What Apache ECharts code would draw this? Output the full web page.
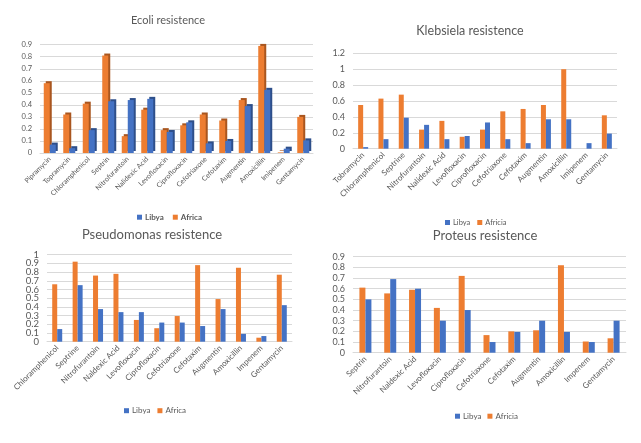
<!DOCTYPE html>
<html><head><meta charset="utf-8">
<script src="https://cdn.jsdelivr.net/npm/echarts@6/dist/echarts.min.js"></script>
<style>html,body{margin:0;padding:0;background:#fff}#c{width:641px;height:443px}</style>
</head><body><div id="c"></div>
<script>
// ---- DATA ----
const ecoliCats = ['Pipramycin','Topramycin','Chloramphenicol','Septrin','Nitrofurantoin','Nalidexic Acid','Levofloxacin','Ciprofloxacin','Cefotriaxone','Cefotaxim','Augmentin','Amoxicillin','Imipenem','Gentamycin'];
const ecoliLibya  = [0.07,0.04,0.19,0.43,0.44,0.45,0.175,0.255,0.08,0.10,0.39,0.525,0.036,0.105];
const ecoliAfrica = [0.58,0.32,0.41,0.81,0.14,0.36,0.19,0.23,0.32,0.27,0.44,0.89,0.005,0.30];

const klebCats = ['Tobramycin','Chloramphenicol','Septrine','Nitrofurantoin','Nalidexic Acid','Levofloxacin','Ciprofloxacin','Cefotriaxone','Cefotaxim','Augmentin','Amoxicillin','Imipenem','Gentamycin'];
const klebLibya  = [0.02,0.12,0.39,0.30,0.12,0.16,0.33,0.12,0.07,0.37,0.37,0.07,0.19];
const klebAfrica = [0.55,0.63,0.68,0.24,0.35,0.15,0.24,0.47,0.50,0.55,1.0,0,0.42];

const pseudoCats = ['Chloramphenicol','Septrine','Nitrofurantoin','Naldexic Acid','Levofloxacin','Ciprofloxacin','Cefotriaxone','Cefotaxim','Augmentin','Amoxicillin','Impenem','Gentamycin'];
const pseudoLibya  = [0.145,0.65,0.375,0.34,0.34,0.22,0.22,0.18,0.375,0.09,0.065,0.42];
const pseudoAfrica = [0.66,0.92,0.76,0.78,0.25,0.155,0.295,0.88,0.49,0.85,0.046,0.77];
const pseudoTicks  = ['0','0.1','0.2','0.3','0.4','0.5','0.6','0.7','0.8','0.9','1'];

const proteusCats = ['Septrin','Nitrofurantoin','Naldexic Acid','Levofloxacin','Ciprofloxacin','Cefotriaxone','Cefotaxim','Augmentin','Amoxicillin','Impenem','Gentamycin'];
const proteusLibya  = [0.50,0.69,0.60,0.30,0.40,0.10,0.195,0.30,0.195,0.10,0.30];
const proteusAfrica = [0.61,0.556,0.59,0.42,0.72,0.165,0.20,0.21,0.82,0.105,0.135];

const titles = ['Ecoli resistence','Klebsiela resistence','Pseudomonas resistence','Proteus resistence'];
const libyaName = 'Libya';
const africaNames = ['Africa','Africia','Africa','Africia'];
const yMax = [0.9,1.2,1,0.9];
const yInterval = [0.1,0.2,0.1,0.1];

// ---- LAYOUT / STYLE ----
const panels = [
  {cats: ecoliCats, lib: ecoliLibya, afr: ecoliAfrica, grid:{left:40,top:44.7,width:273,height:108.3},
   title:{x:168,cy:22,size:11}, legend:{x:137,cy:218,size:8,bold:true,icon:5,gap:9}, barW:6, d3:true, xf:7, yf:7.5},
  {cats: klebCats, lib: klebLibya, afr: klebAfrica, grid:{left:353,top:53.3,width:264,height:95.4},
   title:{x:470,cy:32,size:12.5}, legend:{x:445,cy:223,size:7.5,bold:false,icon:5,gap:7}, barW:5, d3:false, xf:8, yf:9},
  {cats: pseudoCats, lib: pseudoLibya, afr: pseudoAfrica, grid:{left:47,top:254.7,width:245,height:87},
   title:{x:152,cy:236,size:13}, legend:{x:124,cy:411.5,size:8,bold:false,icon:5,gap:7}, barW:5, d3:false, xf:8, yf:9.5, ticks:pseudoTicks},
  {cats: proteusCats, lib: proteusLibya, afr: proteusAfrica, grid:{left:353,top:256.7,width:273,height:96},
   title:{x:485,cy:237,size:13}, legend:{x:455,cy:417,size:8,bold:false,icon:5,gap:6}, barW:6, d3:false, xf:8, yf:9}
];
const BLUE = '#4472C4', ORANGE = '#ED7D31';
const FONT = 'Lato, "Open Sans", sans-serif';

const option = {animation:false, title:[], legend:[], grid:[], xAxis:[], yAxis:[], series:[]};
panels.forEach((p,i)=>{
  option.title.push({text:titles[i], left:p.title.x, top:p.title.cy - p.title.size*0.62, textAlign:'center', padding:0,
    textStyle:{fontFamily:FONT, fontSize:p.title.size, fontWeight:'normal', color:'#595959'}});
  option.grid.push({left:p.grid.left, top:p.grid.top, width:p.grid.width, height:p.grid.height});
  option.xAxis.push({type:'category', gridIndex:i, data:p.cats,
    axisLine:{lineStyle:{color:'#d9d9d9'}}, axisTick:{show:false},
    axisLabel:{rotate:45, interval:0, fontFamily:FONT, fontSize:p.xf, color:'#595959', margin:5}});
  option.yAxis.push({type:'value', gridIndex:i, min:0, max:yMax[i], interval:yInterval[i],
    axisLine:{show:false}, axisTick:{show:false},
    splitLine:{lineStyle:{color:'#d9d9d9'}},
    axisLabel:{show:!p.ticks, fontFamily:FONT, fontSize:p.yf, color:'#595959', margin:8, showMinLabel:true, showMaxLabel:true,
      formatter:v=>String(Math.round(v*10)/10)}});
  const a = africaNames[i];
  option.legend.push({data:[libyaName, a], left:p.legend.x, top:p.legend.cy - p.legend.size*0.6, padding:0,
    itemWidth:p.legend.icon, itemHeight:p.legend.icon, itemGap:p.legend.gap, icon:'rect',
    textStyle:{fontFamily:FONT, fontSize:p.legend.size, fontWeight:p.legend.bold?'bold':'normal', color:'#595959', padding:[0,0,0,-2]}});
  const st = (c,dark)=> p.d3 ? {color:c, shadowColor:dark, shadowBlur:0, shadowOffsetX:2, shadowOffsetY:-2} : {color:c};
  option.series.push({name:a, type:'bar', xAxisIndex:i, yAxisIndex:i, data:p.afr, barWidth:p.barW, barGap:'0%',
    itemStyle:st(ORANGE,'#a9561f')});
  option.series.push({name:libyaName, type:'bar', xAxisIndex:i, yAxisIndex:i, data:p.lib, barWidth:p.barW, barGap:'0%',
    itemStyle:st(BLUE,'#2e4f8a')});
});
// label-only axes for panels whose tick labels are denser than their font
panels.forEach((p,i)=>{
  if (!p.ticks) return;
  option.yAxis.push({type:'category', gridIndex:i, data:p.ticks, boundaryGap:false, position:'left',
    axisLine:{show:false}, axisTick:{show:false}, splitLine:{show:false},
    axisLabel:{interval:0, hideOverlap:false, fontFamily:FONT, fontSize:p.yf, color:'#595959', margin:8}});
});

const chart = echarts.init(document.getElementById('c'), null, {renderer:'canvas'});
chart.setOption(option);
</script></body></html>
